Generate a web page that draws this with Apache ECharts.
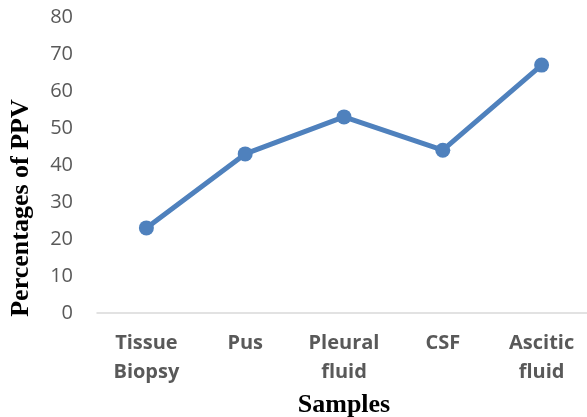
<!DOCTYPE html>
<html>
<head>
<meta charset="utf-8">
<script src="https://cdn.jsdelivr.net/npm/echarts@6/dist/echarts.min.js"></script>
<style>
  html, body { margin: 0; padding: 0; background: #fff; }
  #chart { width: 587px; height: 417px; }
</style>
</head>
<body>
<div id="chart"></div>
<script>
// Sample types on the x axis
var categories = ['Tissue\nBiopsy', 'Pus', 'Pleural\nfluid', 'CSF', 'Ascitic\nfluid'];
// Positive predictive value per sample type (%)
var ppvValues = [23, 43, 53, 44, 67];
// Value axis range and step
var yMin = 0, yMax = 80, yStep = 10;
// Axis titles
var xTitle = 'Samples';
var yTitle = 'Percentages of PPV';

var titleFont = { fontFamily: 'Liberation Serif', fontWeight: 'bold', fontSize: 26, color: '#000' };

var chart = echarts.init(document.getElementById('chart'));
chart.setOption({
  animation: false,
  grid: { left: 97, right: -4, top: 17, bottom: 104, containLabel: false, outerBoundsMode: 'none' },
  // Vertical title sits a little lower than the plot's middle
  graphic: [{
    type: 'text',
    x: 34, y: 208,
    rotation: Math.PI / 2,
    style: {
      text: yTitle,
      font: 'bold 26px "Liberation Serif"',
      fill: '#000',
      align: 'center',
      verticalAlign: 'bottom'
    }
  }],
  xAxis: {
    type: 'category',
    data: categories,
    boundaryGap: true,
    name: xTitle,
    nameLocation: 'middle',
    nameGap: 76,
    nameTextStyle: titleFont,
    axisLine: { lineStyle: { color: '#d9d9d9', width: 1.5 } },
    axisTick: { show: false },
    axisLabel: {
      interval: 0, margin: 16,
      fontFamily: 'Open Sans', fontWeight: 'bold', fontSize: 20, lineHeight: 29, color: '#595959'
    },
    splitLine: { show: false }
  },
  yAxis: {
    type: 'value',
    min: yMin, max: yMax, interval: yStep,
    axisLine: { show: false },
    axisTick: { show: false },
    axisLabel: { margin: 24, fontFamily: 'Open Sans', fontSize: 20, color: '#595959' },
    splitLine: { show: false }
  },
  series: [{
    type: 'line',
    data: ppvValues,
    symbol: 'circle',
    symbolSize: 15,
    lineStyle: { color: '#4f81bd', width: 5 },
    itemStyle: { color: '#4f81bd' }
  }]
});
</script>
</body>
</html>
